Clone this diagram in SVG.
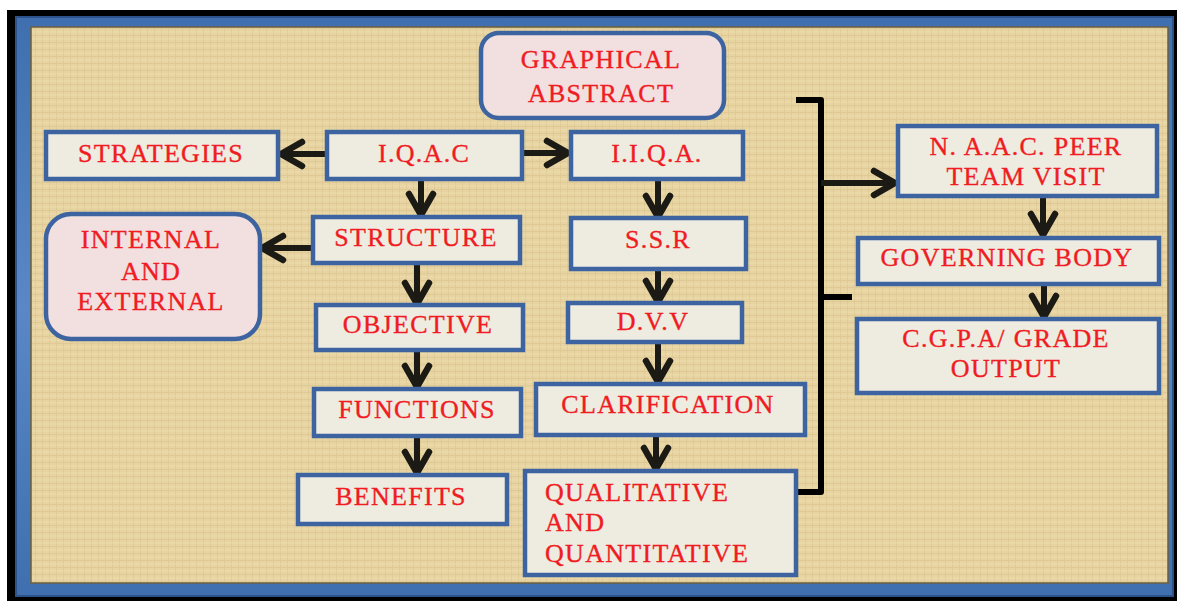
<svg xmlns="http://www.w3.org/2000/svg" width="1177" height="603" viewBox="0 0 1177 603">
<style>
.box{fill:#eeebe1;stroke:#3d64a0;stroke-width:4.5}
.pink{fill:#f2dfe0;stroke:#3d64a0;stroke-width:4.5}
.t{font-family:"Liberation Serif","Times New Roman",serif;font-size:26px;fill:#f01c22;stroke:#f01c22;stroke-width:0.35;letter-spacing:1.3px;text-anchor:middle}
.tl{text-anchor:start}
.c{fill:none;stroke:#1c1a14;stroke-width:6}
</style>
<defs>
<pattern id="weave" width="7" height="7" patternUnits="userSpaceOnUse">
<rect width="7" height="7" fill="#e7d4a2"/>
<path d="M0 0.5H7M0.5 0V7" stroke="#d4bb82" stroke-width="1" opacity="0.45"/>
<path d="M0 4H7" stroke="#f2e3b8" stroke-width="1" opacity="0.5"/>
</pattern>
<linearGradient id="blue" x1="0" y1="0" x2="0" y2="1">
<stop offset="0" stop-color="#3f6fae"/><stop offset="0.5" stop-color="#5a88c6"/><stop offset="1" stop-color="#3f6fae"/>
</linearGradient>
<marker id="ah" viewBox="0 0 32 32" refX="28" refY="16" markerWidth="32" markerHeight="32" markerUnits="userSpaceOnUse" orient="auto">
<path d="M6 4L27 16L6 28" fill="none" stroke="#1c1a14" stroke-width="6.5" stroke-linecap="round" stroke-linejoin="round"/>
</marker>
</defs>

<g id="frame">
<rect x="0" y="0" width="1177" height="603" fill="#ffffff"/>
<rect x="7" y="10" width="1170" height="591" fill="#000000"/>
<rect x="16" y="17" width="1157" height="579" fill="url(#blue)" stroke="#2c5289" stroke-width="2"/>
<rect x="31" y="27" width="1137" height="556" fill="url(#weave)" stroke="#6b5f3c" stroke-width="1.5"/>
</g>

<g id="connectors">
<line class="c" x1="326" y1="154" x2="280" y2="154" marker-end="url(#ah)"/>
<line class="c" x1="522" y1="153" x2="569" y2="153" marker-end="url(#ah)"/>
<line class="c" x1="421" y1="180" x2="421" y2="216" marker-end="url(#ah)"/>
<line class="c" x1="311" y1="248" x2="261" y2="248" marker-end="url(#ah)"/>
<line class="c" x1="417" y1="263" x2="417" y2="305" marker-end="url(#ah)"/>
<line class="c" x1="417" y1="350" x2="417" y2="388" marker-end="url(#ah)"/>
<line class="c" x1="417" y1="436" x2="417" y2="474" marker-end="url(#ah)"/>
<line class="c" x1="658" y1="180" x2="658" y2="218" marker-end="url(#ah)"/>
<line class="c" x1="658" y1="269" x2="658" y2="303" marker-end="url(#ah)"/>
<line class="c" x1="658" y1="342" x2="658" y2="383" marker-end="url(#ah)"/>
<line class="c" x1="656" y1="435" x2="656" y2="470" marker-end="url(#ah)"/>
<path d="M796 100H821V492H796" fill="none" stroke="#000" stroke-width="6" stroke-linejoin="round"/>
<line x1="821" y1="297" x2="852" y2="297" stroke="#000" stroke-width="6"/>
<line class="c" x1="821" y1="183" x2="896" y2="183" marker-end="url(#ah)"/>
<line class="c" x1="1043" y1="197" x2="1043" y2="236" marker-end="url(#ah)"/>
<line class="c" x1="1044" y1="284" x2="1044" y2="318" marker-end="url(#ah)"/>
</g>

<g id="graphical-abstract">
<rect class="pink" x="481" y="33" width="243" height="85" rx="18"/>
<text class="t" x="601" y="68">GRAPHICAL</text>
<text class="t" x="601" y="102">ABSTRACT</text>
</g>
<g id="strategies">
<rect class="box" x="46" y="132" width="232" height="47"/>
<text class="t" x="161" y="162">STRATEGIES</text>
</g>
<g id="iqac">
<rect class="box" x="327" y="132" width="195" height="47"/>
<text class="t" x="424" y="162">I.Q.A.C</text>
</g>
<g id="iiqa">
<rect class="box" x="571" y="132" width="172" height="47"/>
<text class="t" x="657" y="162">I.I.Q.A.</text>
</g>
<g id="internal-external">
<rect class="pink" x="46" y="214" width="214" height="125" rx="25"/>
<text class="t" x="151" y="248">INTERNAL</text>
<text class="t" x="151" y="280">AND</text>
<text class="t" x="151" y="310">EXTERNAL</text>
</g>
<g id="structure">
<rect class="box" x="313" y="217" width="207" height="46"/>
<text class="t" x="416" y="246">STRUCTURE</text>
</g>
<g id="objective">
<rect class="box" x="316" y="305" width="207" height="45"/>
<text class="t" x="418" y="333">OBJECTIVE</text>
</g>
<g id="functions">
<rect class="box" x="314" y="389" width="207" height="47"/>
<text class="t" x="417" y="418">FUNCTIONS</text>
</g>
<g id="benefits">
<rect class="box" x="298" y="475" width="209" height="49"/>
<text class="t" x="401" y="505">BENEFITS</text>
</g>
<g id="ssr">
<rect class="box" x="571" y="218" width="175" height="51"/>
<text class="t" x="658" y="248">S.S.R</text>
</g>
<g id="dvv">
<rect class="box" x="568" y="303" width="174" height="39"/>
<text class="t" x="653" y="330">D.V.V</text>
</g>
<g id="clarification">
<rect class="box" x="536" y="384" width="269" height="51"/>
<text class="t" x="668" y="413">CLARIFICATION</text>
</g>
<g id="qualitative-quantitative">
<rect class="box" x="525" y="471" width="271" height="104"/>
<text class="t tl" x="545" y="501">QUALITATIVE</text>
<text class="t tl" x="545" y="531">AND</text>
<text class="t tl" x="545" y="562">QUANTITATIVE</text>
</g>
<g id="naac-peer-team-visit">
<rect class="box" x="898" y="126" width="259" height="70"/>
<text class="t" x="1026" y="155">N. A.A.C. PEER</text>
<text class="t" x="1026" y="185">TEAM VISIT</text>
</g>
<g id="governing-body">
<rect class="box" x="858" y="238" width="301" height="46"/>
<text class="t" x="1007" y="266">GOVERNING BODY</text>
</g>
<g id="cgpa-grade-output">
<rect class="box" x="857" y="319" width="302" height="74"/>
<text class="t" x="1006" y="347">C.G.P.A/ GRADE</text>
<text class="t" x="1006" y="377">OUTPUT</text>
</g>
</svg>
